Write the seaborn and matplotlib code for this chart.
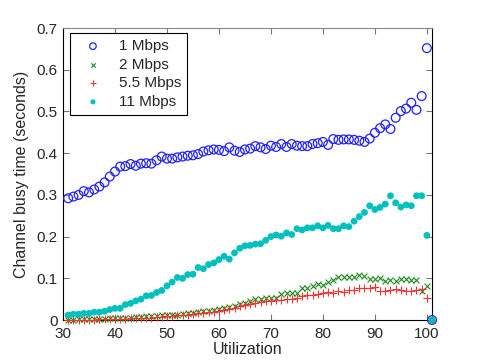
import matplotlib
matplotlib.use("Agg")
import matplotlib.pyplot as plt
import pandas as pd
import seaborn as sns

# utilization points (last one sits at the plot corner)
utilization = list(range(31, 102))

busy_1mbps = [
    0.292, 0.296, 0.300, 0.309, 0.306, 0.313, 0.320, 0.330, 0.344, 0.356,
    0.368, 0.369, 0.374, 0.370, 0.375, 0.376, 0.375, 0.383, 0.392, 0.387,
    0.387, 0.390, 0.392, 0.394, 0.395, 0.398, 0.404, 0.407, 0.409, 0.408,
    0.405, 0.414, 0.406, 0.403, 0.409, 0.411, 0.417, 0.414, 0.410, 0.418,
    0.415, 0.422, 0.415, 0.422, 0.418, 0.417, 0.417, 0.422, 0.424, 0.427,
    0.420, 0.434, 0.432, 0.433, 0.433, 0.432, 0.430, 0.427, 0.435, 0.449,
    0.460, 0.469, 0.458, 0.485, 0.501, 0.507, 0.521, 0.504, 0.537, 0.652,
    0.0,
]
busy_2mbps = [
    0.001, 0.001, 0.002, 0.002, 0.002, 0.003, 0.003, 0.003, 0.004, 0.004,
    0.005, 0.005, 0.006, 0.007, 0.008, 0.009, 0.009, 0.010, 0.011, 0.012,
    0.013, 0.013, 0.015, 0.016, 0.017, 0.019, 0.021, 0.022, 0.024, 0.026,
    0.028, 0.031, 0.034, 0.038, 0.042, 0.046, 0.051, 0.050, 0.052, 0.054,
    0.054, 0.062, 0.066, 0.066, 0.064, 0.076, 0.078, 0.081, 0.086, 0.084,
    0.092, 0.095, 0.102, 0.103, 0.103, 0.103, 0.107, 0.105, 0.098, 0.098,
    0.101, 0.093, 0.095, 0.094, 0.098, 0.098, 0.097, 0.095, 0.069, 0.082,
    0.0,
]
busy_5_5mbps = [
    0.000, 0.000, 0.001, 0.001, 0.001, 0.001, 0.002, 0.002, 0.002, 0.002,
    0.003, 0.003, 0.004, 0.004, 0.005, 0.006, 0.006, 0.007, 0.008, 0.009,
    0.010, 0.011, 0.012, 0.013, 0.014, 0.016, 0.017, 0.019, 0.020, 0.022,
    0.024, 0.026, 0.030, 0.033, 0.036, 0.038, 0.042, 0.044, 0.045, 0.046,
    0.049, 0.048, 0.051, 0.051, 0.054, 0.057, 0.059, 0.060, 0.062, 0.064,
    0.067, 0.064, 0.069, 0.067, 0.072, 0.072, 0.078, 0.076, 0.078, 0.080,
    0.069, 0.069, 0.072, 0.075, 0.073, 0.070, 0.070, 0.072, 0.075, 0.053,
    0.0,
]
busy_11mbps = [
    0.012, 0.014, 0.014, 0.016, 0.016, 0.019, 0.019, 0.021, 0.025, 0.028,
    0.028, 0.037, 0.040, 0.046, 0.050, 0.058, 0.059, 0.066, 0.071, 0.082,
    0.091, 0.102, 0.100, 0.109, 0.110, 0.126, 0.123, 0.133, 0.137, 0.145,
    0.153, 0.146, 0.161, 0.172, 0.178, 0.179, 0.182, 0.183, 0.191, 0.200,
    0.204, 0.201, 0.209, 0.205, 0.219, 0.216, 0.221, 0.221, 0.226, 0.221,
    0.227, 0.219, 0.219, 0.226, 0.224, 0.237, 0.248, 0.258, 0.274, 0.265,
    0.270, 0.278, 0.298, 0.281, 0.271, 0.276, 0.274, 0.298, 0.298, 0.203,
    0.0,
]

x_ticks = [30, 40, 50, 60, 70, 80, 90, 100]
y_ticks = [0, 0.1, 0.2, 0.3, 0.4, 0.5, 0.6, 0.7]
y_tick_labels = ["0", "0.1", "0.2", "0.3", "0.4", "0.5", "0.6", "0.7"]

sns.set_style("ticks")
plt.rcParams["font.family"] = ["Liberation Sans", "DejaVu Sans"]

df = pd.DataFrame({
    "util": utilization,
    "1 Mbps": busy_1mbps,
    "2 Mbps": busy_2mbps,
    "5.5 Mbps": busy_5_5mbps,
    "11 Mbps": busy_11mbps,
})

fig = plt.figure(figsize=(4.79, 3.6), dpi=100)
ax = fig.add_axes([0.1315, 0.111, 0.7705, 0.811])

sns.scatterplot(data=df, x="util", y="1 Mbps", ax=ax, marker="o", s=40,
                facecolor="none", edgecolor="#2020ff", linewidth=0.9,
                label="1 Mbps", clip_on=False, zorder=3)
sns.scatterplot(data=df, x="util", y="2 Mbps", ax=ax, marker="x", s=18,
                color="#1a8a1a", linewidth=0.8, label="2 Mbps", clip_on=False, zorder=3)
sns.scatterplot(data=df, x="util", y="5.5 Mbps", ax=ax, marker="+", s=36,
                color="#ff3030", linewidth=0.8, label="5.5 Mbps", clip_on=False, zorder=3)
sns.scatterplot(data=df, x="util", y="11 Mbps", ax=ax, marker="o", s=24,
                color="#00bfbf", edgecolor="none", label="11 Mbps", clip_on=False, zorder=4)

ax.set_xlim(30, 101)
ax.set_ylim(0, 0.7)
ax.set_xticks(x_ticks)
ax.set_yticks(y_ticks)
ax.set_yticklabels(y_tick_labels)
ax.tick_params(direction="in", top=True, right=True, length=4, width=0.8,
               color="#777777", labelsize=11)
ax.tick_params(axis="x", pad=5)
ax.tick_params(axis="y", pad=4)
for side in ["left", "bottom", "right"]:
    ax.spines[side].set_color("black")
ax.spines["top"].set_color("#888888")

ax.set_xlabel("Utilization", fontsize=11.5, labelpad=1)
ax.set_ylabel("Channel busy time (seconds)", fontsize=11.5, labelpad=5)

leg = ax.legend(loc="upper left", bbox_to_anchor=(0.019, 0.983), borderaxespad=0,
                fancybox=False, framealpha=1, edgecolor="black", fontsize=11,
                handletextpad=0.6, borderpad=0.4, labelspacing=0.3,
                handlelength=2.2, markerscale=0.75)
leg.get_frame().set_linewidth(0.8)

fig.savefig("out.png", dpi=100)
plt.close(fig)
